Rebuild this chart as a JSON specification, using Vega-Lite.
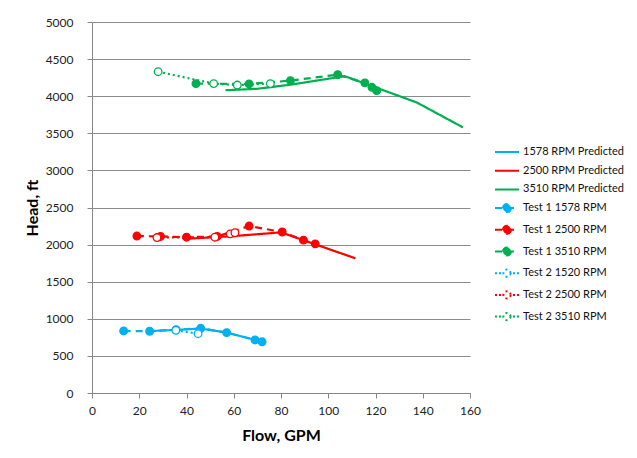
{
  "$schema": "https://vega.github.io/schema/vega-lite/v6.json",
  "width": 378,
  "height": 371,
  "autosize": {"type": "none"},
  "padding": {"left": 92, "top": 22, "right": 167, "bottom": 65},
  "background": "white",
  "config": {
    "view": {"stroke": null},
    "font": "Lato",
    "axis": {
      "labelFont": "Lato",
      "labelFontSize": 12,
      "labelColor": "#222222",
      "titleFont": "Lato",
      "titleFontSize": 16,
      "titleFontWeight": "bold",
      "titleColor": "#000000",
      "domainColor": "#868686",
      "tickColor": "#868686",
      "gridColor": "#8c8c8c",
      "gridWidth": 1,
      "tickSize": 5
    },
    "legend": {
      "labelFont": "Lato",
      "labelFontSize": 11,
      "labelColor": "#111111"
    }
  },
  "data": {
    "values": [
      {"series": "1578 RPM Predicted", "flow": 24.5, "head": 835},
      {"series": "1578 RPM Predicted", "flow": 35.5, "head": 850},
      {"series": "1578 RPM Predicted", "flow": 46, "head": 868},
      {"series": "1578 RPM Predicted", "flow": 57, "head": 815},
      {"series": "1578 RPM Predicted", "flow": 71, "head": 700},

      {"series": "2500 RPM Predicted", "flow": 41, "head": 2080},
      {"series": "2500 RPM Predicted", "flow": 60, "head": 2115},
      {"series": "2500 RPM Predicted", "flow": 80, "head": 2165},
      {"series": "2500 RPM Predicted", "flow": 111.5, "head": 1815},

      {"series": "3510 RPM Predicted", "flow": 56.5, "head": 4080},
      {"series": "3510 RPM Predicted", "flow": 70, "head": 4100},
      {"series": "3510 RPM Predicted", "flow": 84, "head": 4155},
      {"series": "3510 RPM Predicted", "flow": 107, "head": 4270},
      {"series": "3510 RPM Predicted", "flow": 137.5, "head": 3915},
      {"series": "3510 RPM Predicted", "flow": 157, "head": 3580},

      {"series": "Test 1 1578 RPM", "flow": 13.4, "head": 836},
      {"series": "Test 1 1578 RPM", "flow": 24.4, "head": 832},
      {"series": "Test 1 1578 RPM", "flow": 35.6, "head": 854},
      {"series": "Test 1 1578 RPM", "flow": 46, "head": 872},
      {"series": "Test 1 1578 RPM", "flow": 57, "head": 814},
      {"series": "Test 1 1578 RPM", "flow": 69, "head": 715},
      {"series": "Test 1 1578 RPM", "flow": 72, "head": 690},

      {"series": "Test 1 2500 RPM", "flow": 19, "head": 2115},
      {"series": "Test 1 2500 RPM", "flow": 29, "head": 2110},
      {"series": "Test 1 2500 RPM", "flow": 40, "head": 2100},
      {"series": "Test 1 2500 RPM", "flow": 53, "head": 2110},
      {"series": "Test 1 2500 RPM", "flow": 66.5, "head": 2250},
      {"series": "Test 1 2500 RPM", "flow": 80.5, "head": 2170},
      {"series": "Test 1 2500 RPM", "flow": 89.5, "head": 2060},
      {"series": "Test 1 2500 RPM", "flow": 94.5, "head": 2010},

      {"series": "Test 1 3510 RPM", "flow": 44, "head": 4170},
      {"series": "Test 1 3510 RPM", "flow": 66.5, "head": 4165},
      {"series": "Test 1 3510 RPM", "flow": 84, "head": 4210},
      {"series": "Test 1 3510 RPM", "flow": 104, "head": 4290},
      {"series": "Test 1 3510 RPM", "flow": 115.5, "head": 4180},
      {"series": "Test 1 3510 RPM", "flow": 118.5, "head": 4120},
      {"series": "Test 1 3510 RPM", "flow": 120.5, "head": 4075},

      {"series": "Test 2 1520 RPM", "flow": 35.5, "head": 845},
      {"series": "Test 2 1520 RPM", "flow": 44.9, "head": 800},

      {"series": "Test 2 2500 RPM", "flow": 27.5, "head": 2095},
      {"series": "Test 2 2500 RPM", "flow": 52, "head": 2100},
      {"series": "Test 2 2500 RPM", "flow": 58.5, "head": 2145},
      {"series": "Test 2 2500 RPM", "flow": 60.5, "head": 2160},

      {"series": "Test 2 3510 RPM", "flow": 28, "head": 4330},
      {"series": "Test 2 3510 RPM", "flow": 51.5, "head": 4170},
      {"series": "Test 2 3510 RPM", "flow": 61.5, "head": 4150},
      {"series": "Test 2 3510 RPM", "flow": 75.5, "head": 4170}
    ]
  },
  "encoding": {
    "x": {
      "field": "flow",
      "type": "quantitative",
      "title": "Flow, GPM",
      "scale": {"domain": [0, 160], "nice": false, "zero": true},
      "axis": {
        "values": [0, 20, 40, 60, 80, 100, 120, 140, 160],
        "format": "d",
        "grid": false,
        "labelPadding": 7,
        "titlePadding": 11,
        "labelFlush": false
      }
    },
    "y": {
      "field": "head",
      "type": "quantitative",
      "title": "Head, ft",
      "scale": {"domain": [0, 5000], "nice": false},
      "axis": {
        "values": [0, 500, 1000, 1500, 2000, 2500, 3000, 3500, 4000, 4500, 5000],
        "format": "d",
        "grid": true,
        "labelPadding": 14,
        "titlePadding": 5,
        "labelFlush": false
      }
    },
    "color": {
      "field": "series",
      "type": "nominal",
      "scale": {
        "domain": ["1578 RPM Predicted", "2500 RPM Predicted", "3510 RPM Predicted", "Test 1 1578 RPM", "Test 1 2500 RPM", "Test 1 3510 RPM", "Test 2 1520 RPM", "Test 2 2500 RPM", "Test 2 3510 RPM"],
        "range": ["#00b0f0", "#ff0000", "#00b050", "#00b0f0", "#ff0000", "#00b050", "#00b0f0", "#ff0000", "#00b050"]
      },
      "legend": {
        "title": null,
        "orient": "none",
        "legendX": 406,
        "legendY": 121,
        "padding": 0,
        "symbolSize": 256,
        "symbolStrokeWidth": 2,
        "symbolOpacity": 1,
        "labelOffset": 7,
        "rowPadding": 4.7,
        "encode": {
          "symbols": {
            "update": {
              "shape": {"signal": "indexof(datum.value, 'Predicted') >= 0 ? 'M-1.5,0H1.5' : (indexof(datum.value, 'Test 1') === 0 ? 'M-1.5,0H1.5M0.5,0A0.5,0.5 0 1,1 -0.5,0A0.5,0.5 0 1,1 0.5,0' : 'M-1.5,0H-1.25M-1,0H-0.75M0.75,0H1M1.25,0H1.5M0.45,0A0.45,0.45 0 1,1 -0.45,0A0.45,0.45 0 1,1 0.45,0')"},
              "fill": {"signal": "indexof(datum.value, 'Test 1') === 0 ? (indexof(datum.value, '1578') >= 0 ? '#00b0f0' : (indexof(datum.value, '2500') >= 0 ? '#ff0000' : '#00b050')) : (indexof(datum.value, 'Test 2') === 0 ? '#ffffff' : 'transparent')"},
              "strokeDash": {"value": []},
              "opacity": {"value": 1}
            }
          }
        }
      }
    }
  },
  "layer": [
    {
      "mark": {"type": "line", "strokeWidth": 2.2},
      "encoding": {
        "strokeDash": {
          "field": "series",
          "type": "nominal",
          "legend": null,
          "scale": {
            "domain": ["1578 RPM Predicted", "2500 RPM Predicted", "3510 RPM Predicted", "Test 1 1578 RPM", "Test 1 2500 RPM", "Test 1 3510 RPM", "Test 2 1520 RPM", "Test 2 2500 RPM", "Test 2 3510 RPM"],
            "range": [[1, 0], [1, 0], [1, 0], [7, 5], [7, 5], [7, 5], [2, 3], [2, 3], [2, 3]]
          }
        }
      }
    },
    {
      "transform": [{"filter": "indexof(datum.series, 'Test') === 0"}],
      "mark": {"type": "point", "filled": false, "size": 58, "strokeWidth": 1.3, "opacity": 1},
      "encoding": {
        "fill": {
          "field": "series",
          "type": "nominal",
          "legend": null,
          "scale": {
            "domain": ["Test 1 1578 RPM", "Test 1 2500 RPM", "Test 1 3510 RPM", "Test 2 1520 RPM", "Test 2 2500 RPM", "Test 2 3510 RPM"],
            "range": ["#00b0f0", "#ff0000", "#00b050", "#ffffff", "#ffffff", "#ffffff"]
          }
        }
      }
    }
  ]
}
